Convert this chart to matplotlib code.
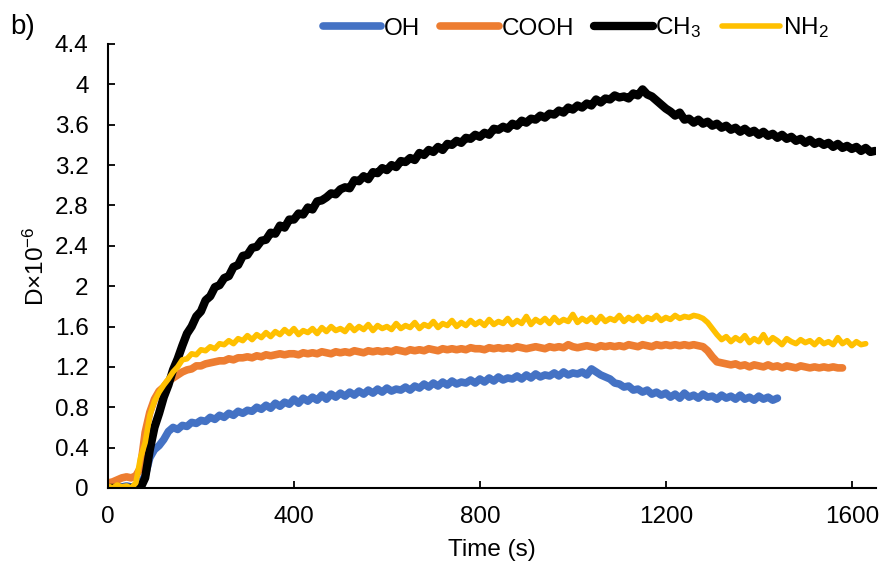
import numpy as np
import matplotlib
matplotlib.use('Agg')
import matplotlib.pyplot as plt

plt.rcParams['font.family'] = ['Liberation Sans', 'DejaVu Sans']
plt.rcParams['mathtext.fontset'] = 'custom'
plt.rcParams['mathtext.rm'] = 'Liberation Sans'
plt.rcParams['mathtext.it'] = 'Liberation Sans:italic'

# time axes (s), sampled every 10 s
t_oh = np.arange(0, 1441, 10)
t_cooh = np.arange(0, 1581, 10)
t_ch3 = np.arange(0, 1651, 10)
t_nh2 = np.arange(0, 1631, 10)

# D x 10^-6
oh = [0.02, 0.01, 0.02, 0.01, 0.02, 0.01, 0.02, 0.05, 0.12, 0.30,
      0.38, 0.42, 0.48, 0.56, 0.60, 0.58, 0.62, 0.61, 0.65, 0.64,
      0.67, 0.66, 0.70, 0.68, 0.72, 0.70, 0.74, 0.72, 0.76, 0.74,
      0.77, 0.76, 0.80, 0.78, 0.82, 0.79, 0.84, 0.81, 0.85, 0.83,
      0.88, 0.84, 0.89, 0.86, 0.90, 0.87, 0.92, 0.88, 0.93, 0.90,
      0.94, 0.91, 0.95, 0.92, 0.96, 0.93, 0.97, 0.94, 0.98, 0.95,
      0.99, 0.96, 0.98, 0.97, 1.00, 0.97, 1.01, 0.99, 1.03, 1.00,
      1.04, 1.01, 1.05, 1.02, 1.06, 1.03, 1.05, 1.04, 1.07, 1.04,
      1.08, 1.05, 1.09, 1.06, 1.10, 1.07, 1.09, 1.08, 1.11, 1.08,
      1.12, 1.09, 1.13, 1.10, 1.12, 1.11, 1.14, 1.11, 1.15, 1.12,
      1.14, 1.13, 1.15, 1.12, 1.18, 1.15, 1.12, 1.10, 1.08, 1.04,
      1.03, 1.00, 1.01, 0.97, 0.98, 0.95, 0.97, 0.93, 0.95, 0.92,
      0.94, 0.90, 0.93, 0.89, 0.94, 0.90, 0.92, 0.89, 0.93, 0.90,
      0.91, 0.88, 0.92, 0.89, 0.91, 0.88, 0.92, 0.88, 0.90, 0.87,
      0.91, 0.88, 0.90, 0.87, 0.89]

cooh = [0.05, 0.06, 0.08, 0.10, 0.11, 0.10, 0.12, 0.20, 0.55, 0.75,
        0.88, 0.96, 1.00, 1.06, 1.09, 1.12, 1.15, 1.17, 1.18, 1.21,
        1.21, 1.23, 1.24, 1.25, 1.26, 1.26, 1.28, 1.27, 1.29, 1.29,
        1.30, 1.29, 1.31, 1.30, 1.32, 1.31, 1.32, 1.33, 1.32, 1.33,
        1.33, 1.32, 1.34, 1.33, 1.34, 1.33, 1.35, 1.34, 1.33, 1.35,
        1.34, 1.35, 1.34, 1.36, 1.35, 1.34, 1.36, 1.35, 1.36, 1.35,
        1.36, 1.35, 1.37, 1.36, 1.35, 1.37, 1.36, 1.37, 1.36, 1.38,
        1.37, 1.36, 1.38, 1.37, 1.38, 1.37, 1.38, 1.37, 1.39, 1.38,
        1.38, 1.37, 1.39, 1.38, 1.39, 1.38, 1.39, 1.38, 1.40, 1.39,
        1.38, 1.39, 1.40, 1.39, 1.38, 1.40, 1.39, 1.40, 1.39, 1.42,
        1.40, 1.39, 1.40, 1.41, 1.40, 1.39, 1.41, 1.40, 1.41, 1.40,
        1.41, 1.40, 1.42, 1.41, 1.40, 1.42, 1.41, 1.40, 1.42, 1.41,
        1.42, 1.41, 1.42, 1.41, 1.42, 1.41, 1.42, 1.41, 1.40, 1.36,
        1.30, 1.25, 1.24, 1.23, 1.22, 1.23, 1.21, 1.22, 1.20, 1.22,
        1.21, 1.20, 1.22, 1.20, 1.21, 1.19, 1.21, 1.20, 1.19, 1.21,
        1.20, 1.19, 1.20, 1.19, 1.20, 1.19, 1.20, 1.19, 1.19]

ch3 = [0.00, 0.00, 0.00, 0.00, 0.00, 0.00, 0.00, 0.00, 0.10, 0.38,
       0.60, 0.74, 0.90, 1.02, 1.17, 1.28, 1.41, 1.53, 1.60, 1.70,
       1.75, 1.86, 1.90, 1.99, 2.01, 2.08, 2.10, 2.19, 2.21, 2.30,
       2.31, 2.38, 2.39, 2.45, 2.46, 2.53, 2.52, 2.60, 2.58, 2.66,
       2.66, 2.72, 2.71, 2.78, 2.76, 2.84, 2.85, 2.88, 2.92, 2.91,
       2.96, 2.98, 2.97, 3.05, 3.04, 3.09, 3.06, 3.13, 3.12, 3.17,
       3.15, 3.20, 3.18, 3.24, 3.23, 3.27, 3.25, 3.32, 3.30, 3.35,
       3.33, 3.38, 3.35, 3.41, 3.40, 3.44, 3.42, 3.47, 3.46, 3.50,
       3.48, 3.52, 3.50, 3.56, 3.55, 3.58, 3.56, 3.61, 3.59, 3.64,
       3.62, 3.66, 3.65, 3.69, 3.67, 3.71, 3.70, 3.74, 3.72, 3.77,
       3.75, 3.79, 3.77, 3.81, 3.79, 3.85, 3.82, 3.86, 3.85, 3.89,
       3.87, 3.88, 3.86, 3.91, 3.89, 3.95, 3.90, 3.88, 3.84, 3.80,
       3.76, 3.73, 3.69, 3.72, 3.65, 3.66, 3.62, 3.65, 3.61, 3.63,
       3.59, 3.61, 3.57, 3.59, 3.55, 3.57, 3.53, 3.56, 3.52, 3.54,
       3.50, 3.53, 3.49, 3.51, 3.47, 3.50, 3.46, 3.48, 3.44, 3.46,
       3.42, 3.45, 3.41, 3.43, 3.40, 3.42, 3.38, 3.41, 3.37, 3.39,
       3.36, 3.38, 3.34, 3.37, 3.33, 3.34]

nh2 = [0.02, 0.00, 0.03, 0.01, 0.02, 0.00, 0.05, 0.30, 0.45, 0.72,
       0.86, 0.95, 1.02, 1.08, 1.15, 1.20, 1.27, 1.28, 1.33, 1.32,
       1.37, 1.36, 1.40, 1.38, 1.43, 1.42, 1.46, 1.43, 1.48, 1.46,
       1.51, 1.47, 1.52, 1.49, 1.54, 1.50, 1.55, 1.52, 1.57, 1.53,
       1.58, 1.52, 1.56, 1.54, 1.58, 1.53, 1.59, 1.55, 1.60, 1.56,
       1.58, 1.55, 1.61, 1.56, 1.60, 1.57, 1.62, 1.56, 1.61, 1.58,
       1.60, 1.57, 1.63, 1.58, 1.61, 1.59, 1.64, 1.58, 1.62, 1.60,
       1.65, 1.59, 1.63, 1.61, 1.66, 1.60, 1.64, 1.61, 1.66, 1.62,
       1.65, 1.61, 1.67, 1.62, 1.65, 1.63, 1.68, 1.62, 1.66, 1.63,
       1.70, 1.62, 1.67, 1.64, 1.68, 1.63, 1.69, 1.64, 1.67, 1.65,
       1.72, 1.64, 1.68, 1.65, 1.69, 1.64, 1.70, 1.65, 1.68, 1.66,
       1.71, 1.65, 1.69, 1.66, 1.70, 1.65, 1.69, 1.67, 1.71, 1.66,
       1.69, 1.67, 1.71, 1.68, 1.70, 1.69, 1.71, 1.70, 1.68, 1.64,
       1.58, 1.52, 1.47, 1.50, 1.45, 1.49, 1.46, 1.51, 1.44, 1.48,
       1.45, 1.52, 1.44, 1.49, 1.46, 1.42, 1.48, 1.45, 1.43, 1.47,
       1.44, 1.46, 1.42, 1.47, 1.43, 1.45, 1.42, 1.49, 1.43, 1.46,
       1.41, 1.45, 1.42, 1.43]

fig = plt.figure(figsize=(8.9, 5.69), dpi=100)
ax = fig.add_axes([0.1213, 0.1424, 0.8629, 0.7803])

ax.plot(t_oh, oh, color='#4472C4', lw=5.5, solid_capstyle='round', label='OH')
ax.plot(t_cooh, cooh, color='#ED7D31', lw=5.5, solid_capstyle='round', label='COOH')
ax.plot(t_ch3, ch3, color='black', lw=6, solid_capstyle='round', label=r'CH$\mathregular{_3}$')
ax.plot(t_nh2, nh2, color='#FFC000', lw=4, solid_capstyle='round', label=r'NH$\mathregular{_2}$')

ax.set_xlim(0, 1652)
ax.set_ylim(0, 4.4)
ax.set_xticks([0, 400, 800, 1200, 1600])
ax.set_yticks(np.arange(0, 4.41, 0.4))
ax.set_yticklabels(['0', '0.4', '0.8', '1.2', '1.6', '2', '2.4', '2.8', '3.2', '3.6', '4', '4.4'])
ax.tick_params(direction='in', length=5, width=1.3, labelsize=17.5)
ax.tick_params(axis='y', pad=14)
ax.tick_params(axis='x', pad=13)
for s in ['top', 'right']:
    ax.spines[s].set_visible(False)
for s in ['left', 'bottom']:
    ax.spines[s].set_linewidth(1.5)

ax.set_xlabel('Time (s)', fontsize=17.5, labelpad=8)
ax.set_ylabel(r'D×10$\mathregular{^{-6}}$', fontsize=17.5, labelpad=4)

leg = ax.legend(loc='center', bbox_to_anchor=(0.609, 1.036), ncol=4, frameon=False,
                fontsize=17.5, handlelength=2.4, handletextpad=0.1, columnspacing=0.85,
                borderaxespad=0)

fig.text(0.012, 0.952, 'b)', fontsize=20, va='center')

fig.savefig('out.png', dpi=100)
